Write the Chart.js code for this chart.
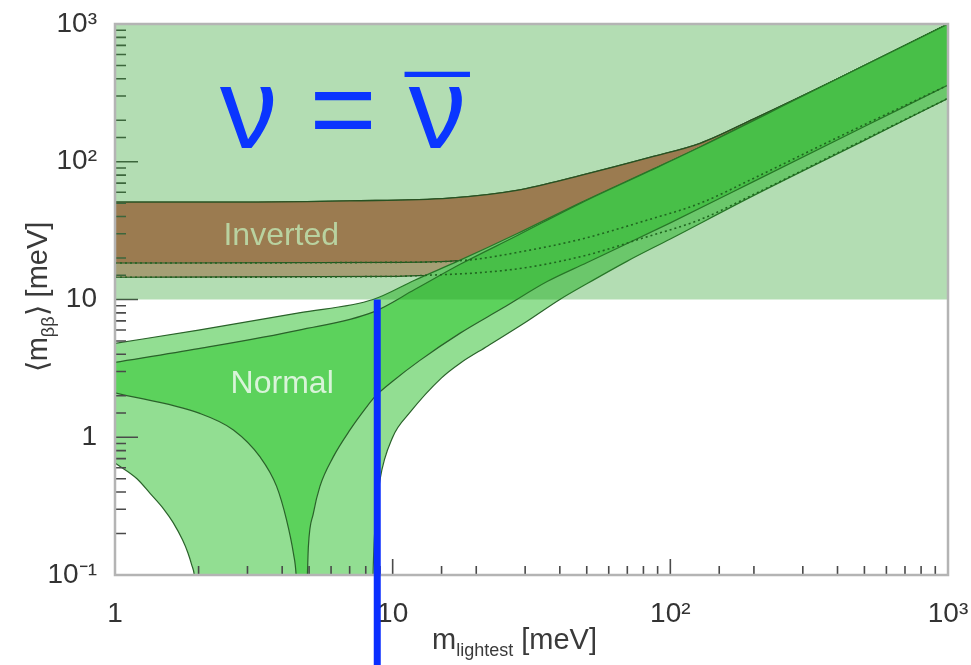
<!DOCTYPE html>
<html lang="en">
<head>
<meta charset="UTF-8">
<title>Effective Majorana mass vs lightest neutrino mass</title>
<script src="https://cdn.jsdelivr.net/npm/chart.js"></script>
<style>
  html, body { margin: 0; padding: 0; background: #fff; }
</style>
</head>
<body>
<canvas id="mbbChart" width="971" height="665"></canvas>
<script>
// axis ranges and decade labels
var xRange = [1, 1000];
var yRange = [0.1, 1000];
var xTickValues = [1, 10, 100, 1000];
var xTickLabels = ['1', '10', '10²', '10³'];
var yTickValues = [0.1, 1, 10, 100, 1000];
var yTickLabels = ['10⁻¹', '1', '10', '10²', '10³'];

// inverted ordering: upper edge, dark lower edge, outer lower edge
var ihUpperX = [1, 3, 7, 16, 28, 48, 85, 128, 200, 400, 1000];
var ihUpperY = [51, 51, 52, 54.4, 62, 80, 108, 136, 205, 400, 1000];
var ihLow1X = [1, 10, 18.5, 30, 48, 80, 128, 200, 400, 1000];
var ihLow1Y = [18.4, 18.6, 19.3, 22.5, 27.5, 37, 50, 76, 150, 360];
var ihLow3X = [1, 10, 13.3, 20, 30, 50, 80, 128, 200, 400, 1000];
var ihLow3Y = [14.5, 14.7, 15, 15.6, 17, 21, 28, 38, 58, 116, 289];

// normal ordering: outer (light) band
var nhUp3X = [1, 2, 4.6, 8.5, 12, 17.5, 28, 48, 85, 128, 300, 1000];
var nhUp3Y = [4.8, 6.0, 8.0, 10, 13.8, 19.3, 30, 51, 87, 128, 300, 1000];
var nhLow3X = [1, 1.2, 1.34, 1.5, 1.62, 1.75, 1.83, 1.89, 1.93, 1.96, 1.99, 8.4, 8.5, 8.75, 9.0, 10, 11.5, 15, 17.5, 22, 30, 40, 50, 70, 100, 200, 500, 1000];
var nhLow3Y = [0.65, 0.5, 0.39, 0.3, 0.24, 0.18, 0.145, 0.118, 0.1, 0.07, 0.02, 0.02, 0.1, 0.3, 0.49, 1.0, 1.5, 2.7, 3.45, 4.6, 6.8, 10, 13, 19, 27.5, 57, 143, 289];

// normal ordering: inner (dark) band
var nhUp1X = [1, 2, 4.6, 8.5, 12, 17.5, 28, 48, 85, 128, 300, 1000];
var nhUp1Y = [3.5, 4.4, 6.0, 8.1, 11.8, 18, 29, 50.5, 86.5, 128, 300, 1000];
var nhLow1X = [1, 2.02, 2.67, 3.33, 3.82, 4.15, 4.39, 4.49, 4.6, 4.8, 4.93, 4.97, 5.18, 5.47, 6.11, 7.02, 8.06, 8.63, 10, 12.5, 17.5, 25, 36, 50, 100, 200, 500, 1000];
var nhLow1Y = [2.1, 1.49, 1.13, 0.72, 0.44, 0.25, 0.144, 0.1, 0.03, 0.03, 0.1, 0.16, 0.28, 0.44, 0.72, 1.13, 1.66, 1.97, 2.55, 3.6, 5.7, 8.7, 13.5, 18.5, 36, 72, 180, 360];

// shaded region from 10 meV up, and the vertical marker
var shadeX = [1, 1000];
var shadeTopY = [1000, 1000];
var shadeFloor = 10;
var markerX = 8.8;

// band labels (data coordinates)
var bandLabels = [
  { text: 'Inverted', x: 3.97, y: 24.8, color: '#b9d2a0' },
  { text: 'Normal', x: 4.0, y: 2.09, color: '#d9f4d9' }
];
var title = { left: 'ν = ', nu: 'ν', bar: '¯', x: 2.39, y: 125.7 };

var FONT = "'Liberation Sans', Arial, Helvetica, sans-serif";

function pts(xs, ys) {
  return xs.map(function (x, i) { return { x: x, y: ys[i] }; });
}

function findLabel(v, vals, labels) {
  for (var i = 0; i < vals.length; i++) {
    if (Math.abs(Math.log10(v) - Math.log10(vals[i])) < 1e-6) return labels[i];
  }
  return '';
}

function isDecade(v) {
  var l = Math.log10(v);
  return Math.abs(l - Math.round(l)) < 1e-6;
}

var nhLine = '#2a622a';
var ihLine = '#2a2a22';

var datasets = [
  // 0: green shade, drawn last
  { label: 'overlay', data: pts(shadeX, shadeTopY), fill: { value: shadeFloor },
    backgroundColor: 'rgba(34,156,34,0.344)', borderWidth: 0, order: 1 },
  // 1: inverted outer band
  { label: 'ihOuter', data: pts(ihUpperX, ihUpperY), fill: 3,
    backgroundColor: 'rgb(234,160,160)', borderColor: ihLine, borderWidth: 1.3, order: 100 },
  // 2: inverted inner band
  { label: 'ihInner', data: pts(ihUpperX, ihUpperY), fill: 4,
    backgroundColor: 'rgb(218,106,104)', borderColor: ihLine, borderWidth: 1.3, order: 95 },
  // 3, 4: inverted lower edges
  { label: 'ihLow3', data: pts(ihLow3X, ihLow3Y), fill: false,
    borderColor: ihLine, borderWidth: 1.2, order: 90 },
  { label: 'ihLow1', data: pts(ihLow1X, ihLow1Y), fill: false,
    borderColor: ihLine, borderWidth: 1.2, order: 89 },
  // 5, 6: normal light band
  { label: 'nhUp3', data: pts(nhUp3X, nhUp3Y), fill: 6,
    backgroundColor: 'rgb(146,222,146)', borderColor: nhLine, borderWidth: 1.2, order: 80 },
  { label: 'nhLow3', data: pts(nhLow3X, nhLow3Y), fill: false,
    borderColor: nhLine, borderWidth: 1.2, order: 79 },
  // 7, 8: normal dark band
  { label: 'nhUp1', data: pts(nhUp1X, nhUp1Y), fill: 8,
    backgroundColor: 'rgb(92,210,92)', borderColor: nhLine, borderWidth: 1.2, order: 70 },
  { label: 'nhLow1', data: pts(nhLow1X, nhLow1Y), fill: false,
    borderColor: nhLine, borderWidth: 1.2, order: 69 },
  // 9, 10: inverted lower edges seen through the normal band
  { label: 'ihLow1dot', data: pts(ihLow1X, ihLow1Y), fill: false,
    borderColor: '#1e4a1e', borderWidth: 1.6, borderDash: [2, 3], order: 60 },
  { label: 'ihLow3dot', data: pts(ihLow3X, ihLow3Y), fill: false,
    borderColor: '#1e4a1e', borderWidth: 1.6, borderDash: [2, 3], order: 59, ticksAfter: true }
];

function drawTicks(chart) {
  var ctx = chart.ctx, a = chart.chartArea;
  var xs = chart.scales.x, ys = chart.scales.y;
  ctx.save();
  ctx.strokeStyle = '#4a4a4a';
  ctx.lineWidth = 1.6;
  ctx.beginPath();
  xs.ticks.forEach(function (t) {
    var px = xs.getPixelForValue(t.value);
    if (px <= a.left + 1 || px >= a.right - 1) return;
    var len = isDecade(t.value) ? 16 : 9;
    ctx.moveTo(px, a.bottom);
    ctx.lineTo(px, a.bottom - len);
  });
  ys.ticks.forEach(function (t) {
    var py = ys.getPixelForValue(t.value);
    if (py <= a.top + 1 || py >= a.bottom - 1) return;
    var len = isDecade(t.value) ? 23 : 11;
    ctx.moveTo(a.left, py);
    ctx.lineTo(a.left + len, py);
  });
  ctx.stroke();
  ctx.restore();
}

function drawPieces(ctx, pieces, x0, y0) {
  var x = x0;
  pieces.forEach(function (p) {
    ctx.font = p.size + 'px ' + FONT;
    ctx.fillText(p.text, x, y0 + (p.dy || 0));
    x += ctx.measureText(p.text).width;
  });
}

function piecesWidth(ctx, pieces) {
  var w = 0;
  pieces.forEach(function (p) {
    ctx.font = p.size + 'px ' + FONT;
    w += ctx.measureText(p.text).width;
  });
  return w;
}

var decor = {
  id: 'decor',
  afterDatasetDraw: function (chart, args) {
    if (chart.data.datasets[args.index].ticksAfter) drawTicks(chart);
  },
  afterDatasetsDraw: function (chart) {
    var ctx = chart.ctx, a = chart.chartArea;
    var xs = chart.scales.x, ys = chart.scales.y;
    ctx.save();

    // frame
    ctx.strokeStyle = '#b4b4b4';
    ctx.lineWidth = 2.5;
    ctx.strokeRect(a.left, a.top, a.right - a.left, a.bottom - a.top);

    // band labels
    ctx.textAlign = 'center';
    ctx.textBaseline = 'alphabetic';
    ctx.font = '32px ' + FONT;
    bandLabels.forEach(function (b) {
      ctx.fillStyle = b.color;
      ctx.fillText(b.text, xs.getPixelForValue(b.x), ys.getPixelForValue(b.y));
    });

    // nu = nu-bar
    ctx.textAlign = 'left';
    ctx.fillStyle = '#0a35ff';
    ctx.font = '115px ' + FONT;
    var tx = xs.getPixelForValue(title.x), ty = ys.getPixelForValue(title.y);
    ctx.fillText(title.left + title.nu, tx, ty);
    var nuLeft = tx + ctx.measureText(title.left).width;
    var nuW = ctx.measureText(title.nu).width;
    ctx.textAlign = 'center';
    ctx.fillText(title.bar, nuLeft + nuW / 2, ty + 11);

    // vertical marker from 10 meV down to the bottom of the page
    var mx = xs.getPixelForValue(markerX);
    ctx.fillStyle = '#0a2eff';
    ctx.fillRect(mx - 3.5, ys.getPixelForValue(shadeFloor), 7, chart.height);

    // axis titles
    ctx.textAlign = 'left';
    ctx.fillStyle = '#3a3a3a';
    drawPieces(ctx, [
      { text: 'm', size: 29 },
      { text: 'lightest', size: 18, dy: 7 },
      { text: ' [meV]', size: 29 }
    ], 432, 649);

    var yt = [
      { text: '⟨m', size: 29 },
      { text: 'ββ', size: 18, dy: 7 },
      { text: '⟩ [meV]', size: 29 }
    ];
    ctx.translate(47, 297);
    ctx.rotate(-Math.PI / 2);
    drawPieces(ctx, yt, -piecesWidth(ctx, yt) / 2, 0);
    ctx.restore();
  }
};

new Chart(document.getElementById('mbbChart').getContext('2d'), {
  type: 'line',
  data: { datasets: datasets },
  options: {
    responsive: false,
    animation: false,
    layout: { padding: { top: 24, right: 23, left: 0, bottom: 0 } },
    elements: {
      point: { radius: 0, hoverRadius: 0 },
      line: { cubicInterpolationMode: 'monotone' }
    },
    plugins: { legend: { display: false }, tooltip: { enabled: false } },
    scales: {
      x: {
        type: 'logarithmic',
        min: xRange[0], max: xRange[1],
        grid: { display: false },
        border: { display: false },
        afterFit: function (s) { s.height = 90; s.paddingLeft = 0; s.paddingRight = 0; },
        ticks: {
          autoSkip: false, maxRotation: 0, padding: 14,
          color: '#333', font: { size: 28, family: FONT },
          callback: function (v) { return findLabel(v, xTickValues, xTickLabels); }
        }
      },
      y: {
        type: 'logarithmic',
        min: yRange[0], max: yRange[1],
        grid: { display: false },
        border: { display: false },
        afterFit: function (s) { s.width = 115; s.paddingTop = 0; s.paddingBottom = 0; },
        ticks: {
          autoSkip: false, padding: 10,
          color: '#333', font: { size: 28, family: FONT },
          callback: function (v) { return findLabel(v, yTickValues, yTickLabels); }
        }
      }
    }
  },
  plugins: [decor]
});
</script>
</body>
</html>
